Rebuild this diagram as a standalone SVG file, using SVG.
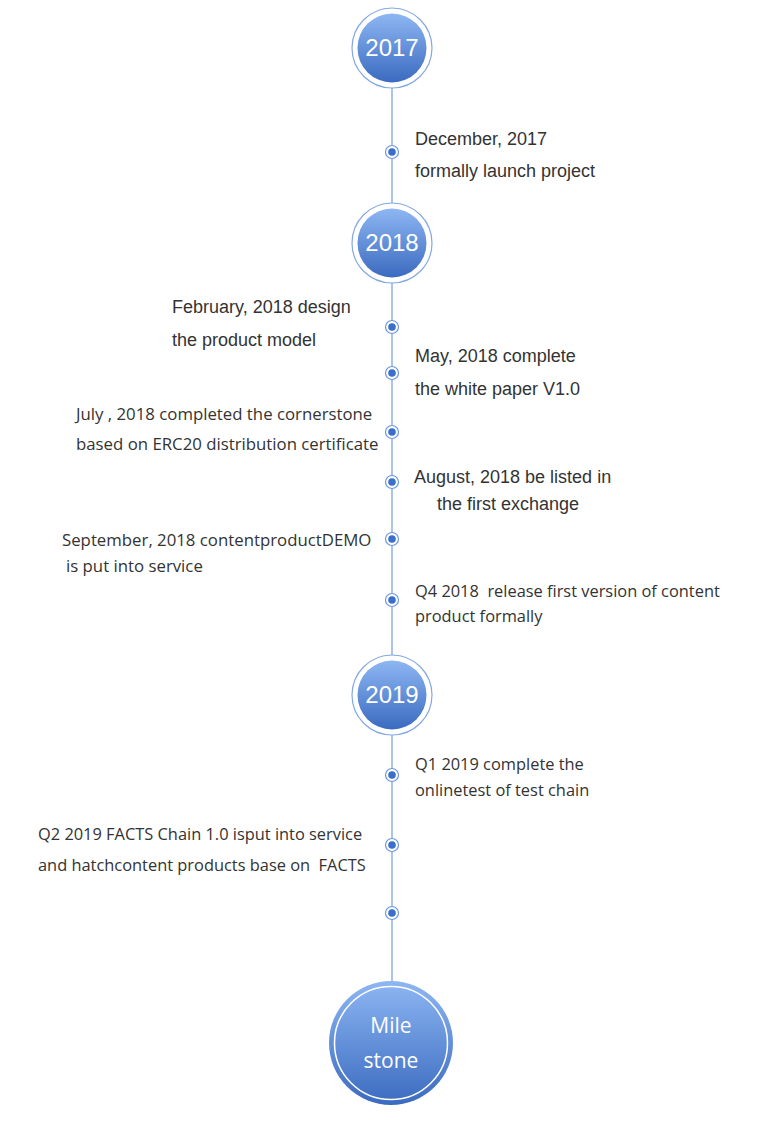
<svg xmlns="http://www.w3.org/2000/svg" width="766" height="1125" viewBox="0 0 766 1125">
<defs>
<linearGradient id="g" x1="0" y1="0" x2="0" y2="1">
<stop offset="0" stop-color="#8db6f2"/>
<stop offset="1" stop-color="#3b6bc0"/>
</linearGradient>
<style>
.ring{fill:#fff;stroke:#84a8e2;stroke-width:1.2}
.core{fill:url(#g)}
.yr{font-family:"Liberation Sans",Arial,sans-serif;font-size:24px;fill:#fff;text-anchor:middle}
.ms{font-family:"Open Sans","Noto Sans",sans-serif;font-size:21px;fill:#fff;text-anchor:middle}
.a{font-family:"Liberation Sans",Arial,sans-serif;font-size:18px;fill:#333}
.b{font-family:"Open Sans","Noto Sans",sans-serif;font-size:16.8px;fill:#333;white-space:pre}
.q{font-size:16.4px}
.dr{fill:#fff;stroke:#6e98da;stroke-width:1.2}
.dc{fill:#3a6fcb}
.ln{stroke:#8fb1e3;stroke-width:1.5;fill:none}
</style>
</defs>
<rect width="766" height="1125" fill="#fff"/>
<g id="connectors">
<line class="ln" x1="392" y1="88" x2="392" y2="982"/>
</g>
<g id="y2017"><circle class="ring" cx="392" cy="48" r="40"/><circle class="core" cx="392" cy="48" r="34.5"/><text class="yr" x="392" y="56">2017</text></g>
<g id="y2018"><circle class="ring" cx="392" cy="243" r="40"/><circle class="core" cx="392" cy="243" r="34.5"/><text class="yr" x="392" y="251">2018</text></g>
<g id="y2019"><circle class="ring" cx="392" cy="695" r="40"/><circle class="core" cx="392" cy="695" r="34.5"/><text class="yr" x="392" y="703">2019</text></g>
<g id="milestone"><circle class="core" cx="391" cy="1043" r="62"/><circle cx="391" cy="1043" r="56.5" fill="none" stroke="#fff" stroke-width="1.5"/><text class="ms" x="391" y="1033">Mile</text><text class="ms" x="391" y="1068">stone</text></g>
<g id="e1"><circle class="dr" cx="392" cy="152" r="6.5"/><circle class="dc" cx="392" cy="152" r="3.8"/><text class="a" x="415" y="145">December, 2017</text><text class="a" x="415" y="177">formally launch project</text></g>
<g id="e2"><circle class="dr" cx="392" cy="327" r="6.5"/><circle class="dc" cx="392" cy="327" r="3.8"/><text class="a" x="172" y="313">February, 2018 design</text><text class="a" x="172" y="346">the product model</text></g>
<g id="e3"><circle class="dr" cx="392" cy="373" r="6.5"/><circle class="dc" cx="392" cy="373" r="3.8"/><text class="a" x="415" y="362">May, 2018 complete</text><text class="a" x="415" y="395">the white paper V1.0</text></g>
<g id="e4"><circle class="dr" cx="392" cy="432" r="6.5"/><circle class="dc" cx="392" cy="432" r="3.8"/><text class="b" x="76" y="420">July , 2018 completed the cornerstone</text><text class="b" x="76" y="450">based on ERC20 distribution certificate</text></g>
<g id="e5"><circle class="dr" cx="392" cy="482" r="6.5"/><circle class="dc" cx="392" cy="482" r="3.8"/><text class="a" x="414" y="483">August, 2018 be listed in</text><text class="a" x="437" y="510">the first exchange</text></g>
<g id="e6"><circle class="dr" cx="392" cy="539" r="6.5"/><circle class="dc" cx="392" cy="539" r="3.8"/><text class="b" x="62" y="546">September, 2018 contentproductDEMO</text><text class="b" x="66" y="572">is put into service</text></g>
<g id="e7"><circle class="dr" cx="392" cy="600" r="6.5"/><circle class="dc" cx="392" cy="600" r="3.8"/><text class="b q" x="415" y="597">Q4 2018  release first version of content</text><text class="b q" x="415" y="622">product formally</text></g>
<g id="e8"><circle class="dr" cx="392" cy="775" r="6.5"/><circle class="dc" cx="392" cy="775" r="3.8"/><text class="b q" x="415" y="770">Q1 2019 complete the</text><text class="b q" x="415" y="796">onlinetest of test chain</text></g>
<g id="e9"><circle class="dr" cx="392" cy="845" r="6.5"/><circle class="dc" cx="392" cy="845" r="3.8"/><text class="b q" x="38" y="840">Q2 2019 FACTS Chain 1.0 isput into service</text><text class="b q" x="38" y="871">and hatchcontent products base on  FACTS</text></g>
<g id="e10"><circle class="dr" cx="392" cy="913" r="6.5"/><circle class="dc" cx="392" cy="913" r="3.8"/></g>
</svg>
